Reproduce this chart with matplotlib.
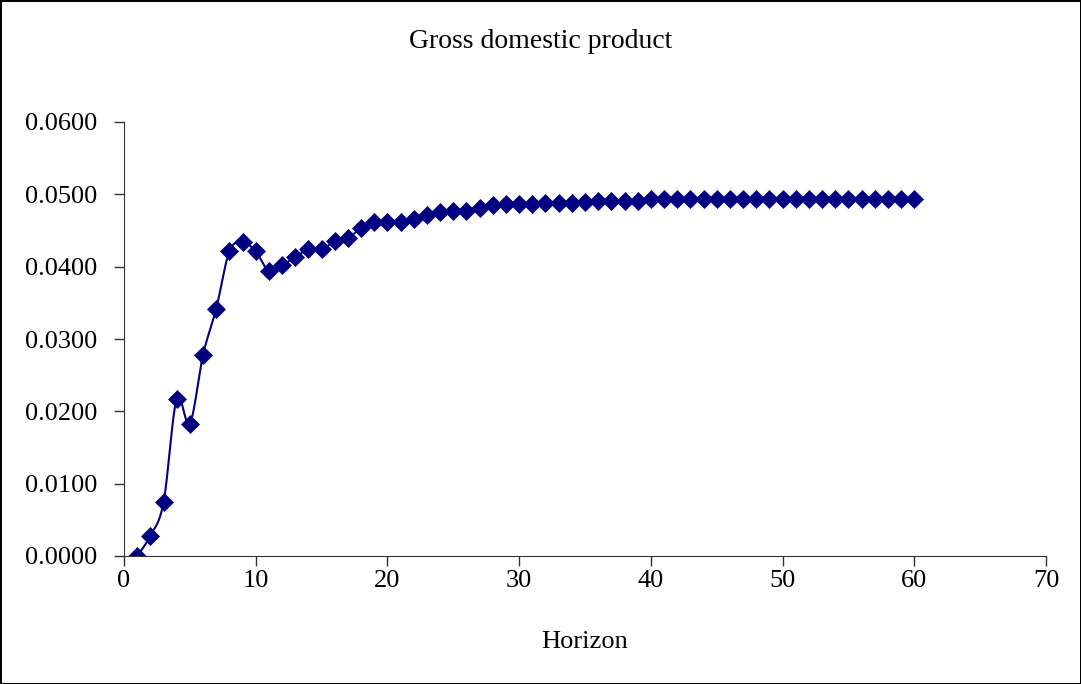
import numpy as np
import matplotlib
matplotlib.use("Agg")
import matplotlib.pyplot as plt

# impulse response
horizon = list(range(1, 61))
gdp = [0.0000, 0.0028, 0.0074, 0.0217, 0.0183, 0.0278, 0.0342, 0.0421, 0.0434, 0.0421,
       0.0394, 0.0402, 0.0413, 0.0424, 0.0424, 0.0435, 0.0440, 0.0453, 0.0462, 0.0462,
       0.0462, 0.0466, 0.0472, 0.0476, 0.0477, 0.0477, 0.0481, 0.0485, 0.0486, 0.0486,
       0.0486, 0.0488, 0.0488, 0.0488, 0.0490, 0.0491, 0.0491, 0.0491, 0.0491, 0.0493,
       0.0493, 0.0493, 0.0493, 0.0493, 0.0493, 0.0493, 0.0493, 0.0493, 0.0493, 0.0493,
       0.0493, 0.0493, 0.0493, 0.0493, 0.0493, 0.0493, 0.0493, 0.0493, 0.0493, 0.0493]


def smooth(x, y, n=20):
    '''Excel style smoothed line: cubic bezier through the points'''
    x = np.asarray(x, float)
    y = np.asarray(y, float)
    px, py = [], []
    for i in range(len(x) - 1):
        x0, y0 = (x[i - 1], y[i - 1]) if i > 0 else (x[i], y[i])
        x3, y3 = (x[i + 2], y[i + 2]) if i + 2 < len(x) else (x[i + 1], y[i + 1])
        c1x = x[i] + (x[i + 1] - x0) / 6
        c1y = y[i] + (y[i + 1] - y0) / 6
        c2x = x[i + 1] - (x3 - x[i]) / 6
        c2y = y[i + 1] - (y3 - y[i]) / 6
        t = np.linspace(0, 1, n, endpoint=False)
        a, b, c, d = (1 - t) ** 3, 3 * t * (1 - t) ** 2, 3 * t ** 2 * (1 - t), t ** 3
        px.extend(a * x[i] + b * c1x + c * c2x + d * x[i + 1])
        py.extend(a * y[i] + b * c1y + c * c2y + d * y[i + 1])
    px.append(x[-1])
    py.append(y[-1])
    return px, py


plt.rcParams['font.family'] = ['Liberation Serif', 'DejaVu Serif']

fig = plt.figure(figsize=(10.81, 6.84), dpi=100)
fig.patch.set_edgecolor('black')
fig.patch.set_linewidth(2)
ax = fig.add_axes([124 / 1081, 1 - 556 / 684, (1046 - 124) / 1081, (556 - 122) / 684])

sx, sy = smooth(horizon, gdp)
ax.plot(sx, sy, color='#000080', linewidth=1.5)
ax.plot(horizon, gdp, linestyle='none', marker='D', markersize=9,
        markeredgewidth=0.5, color='#000080')

ax.set_xlim(0, 70)
ax.set_ylim(0, 0.06)
ax.set_xticks(range(0, 71, 10))
ax.set_yticks(np.arange(0, 0.0601, 0.01))
ax.set_yticklabels(['%.4f' % v for v in np.arange(0, 0.0601, 0.01)])
ax.tick_params(labelsize=19, length=7, width=1, color='#333333')
ax.tick_params(axis='y', pad=12)
ax.tick_params(axis='x', pad=3)
ax.spines['top'].set_visible(False)
ax.spines['right'].set_visible(False)
for s in ['left', 'bottom']:
    ax.spines[s].set_color('#333333')
ax.set_xlabel('Horizon', fontsize=19, labelpad=28)
fig.text(0.5, 1 - 42 / 684, 'Gross domestic product', fontsize=20, ha='center', va='center')

fig.savefig('out.png', dpi=100, edgecolor=fig.get_edgecolor())
